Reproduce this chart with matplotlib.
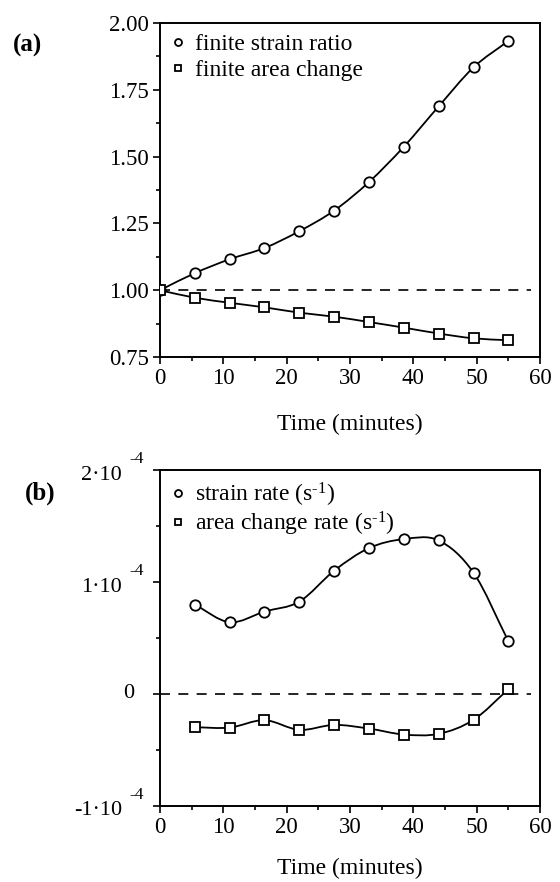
import numpy as np
import matplotlib
matplotlib.use("Agg")
import matplotlib.pyplot as plt
from matplotlib.path import Path
from matplotlib.patches import PathPatch
from matplotlib.lines import Line2D
from matplotlib.ticker import MultipleLocator, FixedLocator, FormatStrFormatter, NullFormatter
from matplotlib.transforms import offset_copy

plt.rcParams['font.family'] = ['Liberation Serif', 'DejaVu Serif']
plt.rcParams['mathtext.fontset'] = 'custom'
plt.rcParams['mathtext.rm'] = 'Liberation Serif'
plt.rcParams['mathtext.it'] = 'Liberation Serif:italic'
plt.rcParams['mathtext.bf'] = 'Liberation Serif:bold'

# ---- data ----
time_a = [0, 5.5, 11, 16.5, 22, 27.5, 33, 38.5, 44, 49.5, 55]
finite_strain_ratio = [1.00, 1.064, 1.116, 1.158, 1.221, 1.298, 1.405, 1.537, 1.688, 1.834, 1.933]
finite_area_change = [1.00, 0.972, 0.953, 0.936, 0.916, 0.901, 0.881, 0.860, 0.838, 0.820, 0.813]

time_b = [5.5, 11, 16.5, 22, 27.5, 33, 38.5, 44, 49.5, 55]
# rates in units of 1e-4 s^-1
strain_rate_e4 = [0.798, 0.641, 0.736, 0.825, 1.101, 1.303, 1.383, 1.371, 1.083, 0.472]
area_rate_e4 = [-0.297, -0.300, -0.234, -0.320, -0.276, -0.309, -0.362, -0.356, -0.231, 0.042]

labels_a = ["finite strain ratio", "finite area change"]
labels_b = [r"strain rate (s$^{\text{-1}}$)", r"area change rate (s$^{\text{-1}}$)"]
yticks_b = [-1, 0, 1, 2]
ytick_base_b = ["-1·10", "0", "1·10", "2·10"]
ytick_exp_b = ["-4", "", "-4", "-4"]


def smooth_curve(ax, x, y, lw=1.3):
    """Catmull-Rom curve through the points, drawn as Bezier path in data coords."""
    x = np.asarray(x, float); y = np.asarray(y, float)
    n = len(x)
    verts = [(x[0], y[0])]
    codes = [Path.MOVETO]
    for i in range(n - 1):
        p0 = (x[i - 1], y[i - 1]) if i > 0 else (2 * x[0] - x[1], 2 * y[0] - y[1])
        p1 = (x[i], y[i]); p2 = (x[i + 1], y[i + 1])
        p3 = (x[i + 2], y[i + 2]) if i + 2 < n else (2 * x[-1] - x[-2], 2 * y[-1] - y[-2])
        c1 = (p1[0] + (p2[0] - p0[0]) / 6, p1[1] + (p2[1] - p0[1]) / 6)
        c2 = (p2[0] - (p3[0] - p1[0]) / 6, p2[1] - (p3[1] - p1[1]) / 6)
        verts += [c1, c2, p2]
        codes += [Path.CURVE4] * 3
    ax.add_patch(PathPatch(Path(verts, codes), fill=False, lw=lw, color='black', zorder=2))


fig = plt.figure(figsize=(5.6, 8.82), dpi=100)
ax1 = fig.add_axes([0.2857, 0.5952, 0.6786, 0.3787])
ax2 = fig.add_axes([0.2857, 0.0862, 0.6786, 0.3809])

mk = dict(ms=7.5, mfc='white', mec='black', mew=1.3, ls='none', zorder=3)

for ax, lp in ((ax1, 18), (ax2, 14)):
    for s in ax.spines.values():
        s.set_linewidth(1.4)
    ax.set_xlim(0, 60)
    ax.xaxis.set_major_locator(MultipleLocator(10))
    ax.xaxis.set_minor_locator(MultipleLocator(5))
    ax.tick_params(which='both', direction='out', top=False, right=False, labelsize=16.5, width=1.2)
    ax.tick_params(which='major', length=5, pad=3)
    ax.tick_params(which='minor', length=3)
    ax.set_xlabel("Time (minutes)", fontsize=17, labelpad=lp)

# panel a
ax1.set_ylim(0.75, 2.00)
ax1.yaxis.set_major_locator(MultipleLocator(0.25))
ax1.yaxis.set_minor_locator(MultipleLocator(0.125))
ax1.yaxis.set_major_formatter(FormatStrFormatter('%.2f'))
ax1.axhline(1.0, xmin=0, xmax=0.975, color='black', lw=1.2, dashes=(6, 5), zorder=1)
smooth_curve(ax1, time_a, finite_strain_ratio)
smooth_curve(ax1, time_a, finite_area_change)
ax1.plot(time_a, finite_strain_ratio, marker='o', **mk)
ax1.plot(time_a, finite_area_change, marker='s', **{**mk, 'ms': 7})
h = [Line2D([], [], marker='o', ms=5, mfc='white', mec='black', mew=1.3, ls='none'),
     Line2D([], [], marker='s', ms=5, mfc='white', mec='black', mew=1.3, ls='none')]
ax1.legend(h, labels_a, loc='upper left', frameon=False, fontsize=17, handlelength=0.6,
           handletextpad=0.45, borderaxespad=0.2, labelspacing=0.2, borderpad=0.25)

# panel b
ax2.set_ylim(-1, 2)
ax2.yaxis.set_major_locator(FixedLocator(yticks_b))
ax2.yaxis.set_major_formatter(NullFormatter())
ax2.yaxis.set_minor_locator(MultipleLocator(0.5))
ytr = ax2.get_yaxis_transform()
for yv, base, ex in zip(yticks_b, ytick_base_b, ytick_exp_b):
    if ex:
        ax2.text(0, yv, base, fontsize=16, ha='right', va='center',
                 transform=offset_copy(ytr, fig, x=-38, y=-5, units='dots'), clip_on=False)
        ax2.text(0, yv, ex, fontsize=12.5, ha='left', va='center',
                 transform=offset_copy(ytr, fig, x=-31, y=11, units='dots'), clip_on=False)
    else:
        ax2.text(0, yv, base, fontsize=16, ha='right', va='center',
                 transform=offset_copy(ytr, fig, x=-26, y=0, units='dots'), clip_on=False)
ax2.axhline(0.0, xmin=0, xmax=0.975, color='black', lw=1.2, dashes=(6, 5), zorder=1)
smooth_curve(ax2, time_b, strain_rate_e4)
smooth_curve(ax2, time_b, area_rate_e4)
ax2.plot(time_b, strain_rate_e4, marker='o', **mk)
ax2.plot(time_b, area_rate_e4, marker='s', **{**mk, 'ms': 7})
ax2.legend(h, labels_b, loc='upper left', frameon=False, fontsize=17, handlelength=0.6,
           handletextpad=0.45, borderaxespad=0.2, labelspacing=0.05, borderpad=0.25)

fig.text(28 / 560, 1 - 45 / 882, "(a)", fontsize=18, fontweight='bold', ha='center', va='center')
fig.text(40 / 560, 1 - 493 / 882, "(b)", fontsize=18, fontweight='bold', ha='center', va='center')

fig.savefig("out.png", dpi=100)
